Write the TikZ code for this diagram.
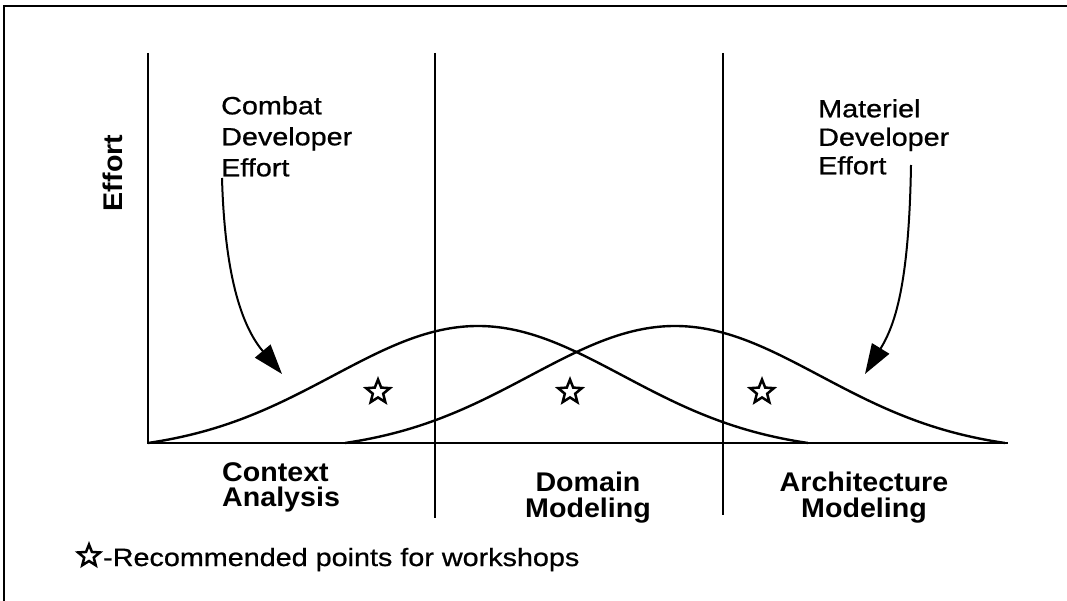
\documentclass[tikz,border=0pt]{standalone}
\usepackage{fontspec}
\setmainfont{Liberation Sans}
\newfontfamily\regf{Liberation Sans}[FakeStretch=1.15,FakeBold=0.8]
\newfontfamily\boldf{Liberation Sans}[FakeStretch=1.06]
\usetikzlibrary{shapes.geometric,arrows.meta}
\begin{document}
\begin{tikzpicture}[x=1pt,y=-1pt,
  axis/.style={line width=2pt},
  curve/.style={line width=2.4pt, line join=round},
  lbl/.style={inner sep=0pt, font=\regf\fontsize{25}{31}\selectfont, align=left},
  phase/.style={inner sep=0pt, font=\boldf\bfseries\fontsize{27}{25.5}\selectfont},
  wstar/.style={star, star points=5, star point ratio=2.3, draw, line width=2.5pt, minimum size=25pt, inner sep=0pt},
  pointer/.style={line width=2pt, -{Triangle[length=30pt,width=20pt]}},
]
\useasboundingbox (0,0) rectangle (1067,601);
% frame
\draw[axis] (4,601) -- (4,6) -- (1067,6);
% axes and dividers
\coordinate (o) at (148,443);
\draw[axis] (148,53) -- (o) -- (1008,443);
\draw[axis] (435,53) -- (435,518);
\draw[axis] (723,53) -- (723,515);
% curves
\pgfmathsetmacro{\gz}{exp(-0.5*(330/145)^2)}
\draw[curve] plot[domain=-330:330, samples=120, smooth] ({478+\x}, {443-117*(exp(-0.5*(\x/145)^2)-\gz)/(1-\gz)});
\draw[curve] plot[domain=-330:330, samples=120, smooth] ({675+\x}, {443-117*(exp(-0.5*(\x/145)^2)-\gz)/(1-\gz)});
% labels
\node[lbl, anchor=north west] (cde) at (221,96) {Combat\\Developer\\Effort};
\node[lbl, anchor=north west, font=\regf\fontsize{25}{28.5}\selectfont] (mde) at (818,99) {Materiel\\Developer\\Effort};
\coordinate (ca) at (222,178);
\coordinate (ct) at (282,374);
\draw[pointer] (ca) .. controls (225,285) and (245,330) .. (ct);
\coordinate (ma) at (911,165);
\coordinate (mt) at (865,374);
\draw[pointer] (ma) .. controls (909,285) and (895,325) .. (mt);
\node[phase, rotate=90] (eff) at (113,173) {Effort};
\node[phase, anchor=north west, align=left] (ctx) at (222,462) {Context\\Analysis};
\node[phase, anchor=north, align=center] (dom) at (588,472) {Domain\\Modeling};
\node[phase, anchor=north, align=center] (arch) at (864,472) {Architecture\\Modeling};
% stars
\node[wstar] (s1) at (378,392) {};
\node[wstar] (s2) at (570,392) {};
\node[wstar] (s3) at (762,392) {};
% legend
\node[wstar, minimum size=23pt] (ls) at (89,556) {};
\node[lbl, anchor=base west] (leg) at (103,566) {-Recommended points for workshops};
\end{tikzpicture}
\end{document}
